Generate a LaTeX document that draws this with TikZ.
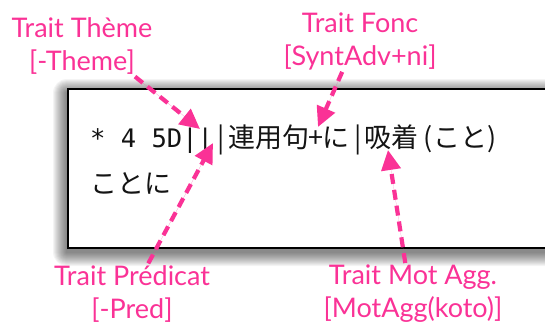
\documentclass[tikz,border=0pt]{standalone}
\usepackage{fontspec}
\setmainfont{Lato}
\setmonofont{DejaVu Sans Mono}
\newfontfamily\jpfont{Noto Sans CJK JP}
\usetikzlibrary{arrows.meta}
\definecolor{traitPink}{RGB}{250,50,150}
\definecolor{panelInk}{RGB}{20,20,20}

\begin{document}
\begin{tikzpicture}[x=1pt, y=1pt,
      trait/.style={align=center, text=traitPink, font=\fontsize{27}{33}\selectfont, inner sep=2pt},
      code/.style={anchor=base west, inner sep=0pt, text=panelInk},
      panel/.style={rectangle, draw=black, line width=2.2pt, fill=white},
      pointer/.style={-{Triangle[length=20pt, width=19pt]}, draw=traitPink, fill=traitPink,
        line width=4.2pt, dash pattern=on 10pt off 6pt}
    ]
    \clip (0,0) rectangle (545,-329);
    % soft shadow under the panel
    \foreach \r in {1,...,14} {
      \fill[black, opacity=0.045, rounded corners=\r pt] (67-\r,-93+\r) rectangle (600+\r,-252-\r);
    }
    \node[panel, anchor=north west, minimum width=530pt, minimum height=159pt] (panel) at (67,-88) {};

    \node[code, font=\fontsize{25.5}{30}\ttfamily] (codeA) at (90,-147) {* 4 5D||};
    \node[code, font=\fontsize{27}{30}\jpfont, xshift=4pt] (codeB) at (codeA.base east)
      {|\kern4pt 連用句\kern-1pt+\kern-1ptに\kern5pt|\kern3pt 吸着\kern5pt(こと)};
    \node[code, font=\fontsize{27}{30}\jpfont] (codeC) at (90,-193) {ことに};

    \node[trait] (theme) at (82,-46) {Trait Thème\\{}[-Theme]};
    \node[trait] (fonc) at (360,-41) {Trait Fonc\\{}[SyntAdv+ni]};
    \node[trait] (pred) at (132,-294) {Trait Prédicat\\{}[-Pred]};
    \node[trait] (motagg) at (413,-294) {Trait Mot Agg.\\{}[MotAgg(koto)]};

    \coordinate (themeTip) at (200,-129);
    \coordinate (foncTip) at (318,-127);
    \coordinate (predTip) at (213,-143);
    \coordinate (motaggTip) at (388,-150);

    \draw[pointer] (theme.330) -- (themeTip);
    \draw[pointer] (fonc.240) -- (foncTip);
    \draw[pointer] (pred.62) -- (predTip);
    \draw[pointer] (motagg.104) -- (motaggTip);
  \end{tikzpicture}
\end{document}
